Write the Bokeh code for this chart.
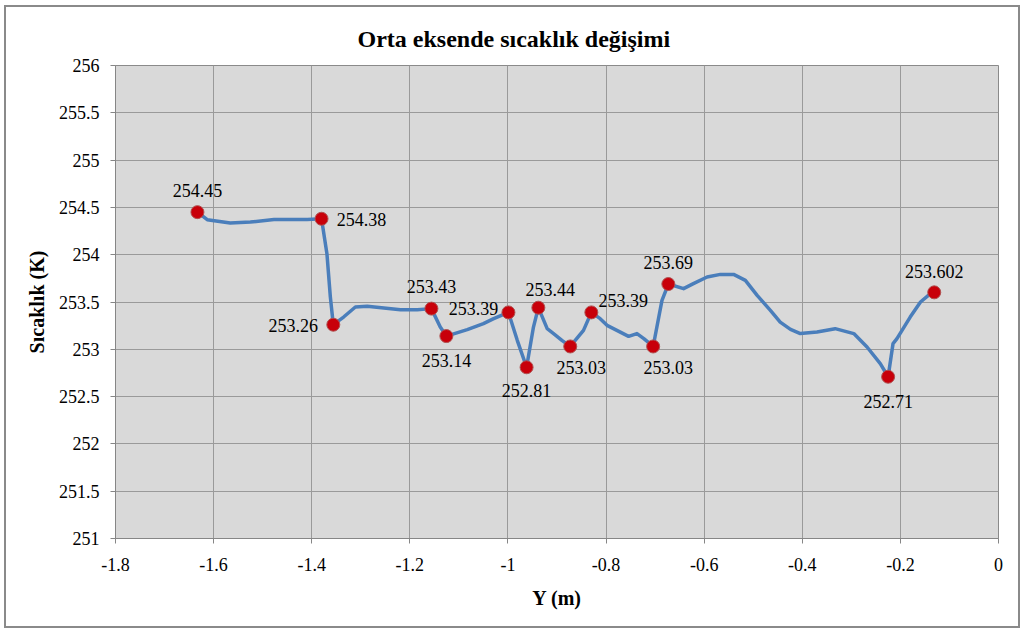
from bokeh.plotting import figure
from bokeh.models import FixedTicker, NumeralTickFormatter, ColumnDataSource, Range1d, Title
from bokeh.core.properties import value
from bokeh.embed import file_html
from bokeh.resources import INLINE

title_text = "Orta eksende sıcaklık değişimi"
x_label = "Y (m)"
y_label = "Sıcaklık (K)"

x_ticks = [-1.8, -1.6, -1.4, -1.2, -1.0, -0.8, -0.6, -0.4, -0.2, 0.0]
y_ticks = [251, 251.5, 252, 252.5, 253, 253.5, 254, 254.5, 255, 255.5, 256]

# curve
line_x = [-1.633, -1.613, -1.566, -1.525, -1.477, -1.409, -1.380, -1.369, -1.362, -1.356,
          -1.335, -1.311, -1.287, -1.253, -1.219, -1.185, -1.156, -1.138, -1.1255, -1.083,
          -1.050, -1.029, -0.999, -0.981, -0.962, -0.948, -0.938, -0.920, -0.907, -0.890,
          -0.873, -0.846, -0.830, -0.812, -0.798, -0.778, -0.754, -0.737, -0.723, -0.704,
          -0.686, -0.673, -0.642, -0.622, -0.594, -0.567, -0.540, -0.516, -0.492, -0.465,
          -0.445, -0.424, -0.404, -0.370, -0.333, -0.295, -0.268, -0.241, -0.225, -0.215,
          -0.207, -0.180, -0.159, -0.143, -0.131]
line_y = [254.45, 254.370, 254.334, 254.345, 254.373, 254.373, 254.38, 254.011, 253.552, 253.26,
          253.341, 253.447, 253.454, 253.436, 253.419, 253.419, 253.43, 253.235, 253.14, 253.208,
          253.271, 253.324, 253.39, 253.095, 252.81, 253.235, 253.44, 253.218, 253.166, 253.095,
          253.03, 253.200, 253.39, 253.324, 253.253, 253.200, 253.137, 253.166, 253.113, 253.03,
          253.517, 253.69, 253.641, 253.694, 253.764, 253.792, 253.792, 253.729, 253.570, 253.412,
          253.288, 253.211, 253.166, 253.183, 253.218, 253.166, 253.024, 252.849, 252.71, 253.060,
          253.113, 253.341, 253.500, 253.570, 253.602]

# labelled points
mark_x = [-1.633, -1.380, -1.356, -1.156, -1.1255, -0.999, -0.962, -0.938, -0.873, -0.830,
          -0.704, -0.673, -0.225, -0.131]
mark_y = [254.45, 254.38, 253.26, 253.43, 253.14, 253.39, 252.81, 253.44, 253.03, 253.39,
          253.03, 253.69, 252.71, 253.602]
mark_text = ["254.45", "254.38", "253.26", "253.43", "253.14", "253.39", "252.81", "253.44",
             "253.03", "253.39", "253.03", "253.69", "252.71", "253.602"]

# label placement (pixels, screen offsets)
label_dx = [0, 40, -40, 0, 0, -35, 0, 12, 11, 32, 15, 0, 0, 0]
label_dy = [-22, 1, 1, -22, 24, -4, 23, -18, 21, -12, 21, -22, 25, -21]

serif = "Liberation Serif"

p = figure(frame_width=883, frame_height=473, output_backend="svg", toolbar_location=None,
           x_range=Range1d(-1.8, 0.0), y_range=Range1d(251, 256),
           min_border_left=109, min_border_right=20, min_border_top=58, min_border_bottom=88)
p.styles = {"border": "2px solid #8a8a8a", "margin": "5px 0px 0px 4px"}
p.background_fill_color = "#d9d9d9"
p.border_fill_color = "white"
p.outline_line_color = "#8a8a8a"
p.outline_line_width = 1

for ax in (p.xaxis[0], p.yaxis[0]):
    ax.axis_line_color = "#868686"
    ax.major_tick_line_color = "#868686"
    ax.major_tick_out = 5
    ax.major_tick_in = 0
    ax.minor_tick_line_color = None
    ax.major_label_text_font = serif
    ax.major_label_text_font_size = "18px"
    ax.major_label_text_color = "black"
    ax.axis_label_text_font = serif
    ax.axis_label_text_font_size = "20px"
    ax.axis_label_text_font_style = "bold"
    ax.axis_label_text_color = "black"
    ax.formatter = NumeralTickFormatter(format="0.[0]")

p.xaxis[0].ticker = FixedTicker(ticks=x_ticks)
p.yaxis[0].ticker = FixedTicker(ticks=y_ticks)
p.xaxis[0].major_label_standoff = 14
p.yaxis[0].major_label_standoff = 11
p.xaxis[0].axis_label = x_label
p.xaxis[0].axis_label_standoff = 13
p.yaxis[0].axis_label = y_label
p.yaxis[0].axis_label_standoff = 8

p.xgrid.ticker = FixedTicker(ticks=x_ticks)
p.ygrid.ticker = FixedTicker(ticks=y_ticks)
for g in (p.xgrid[0], p.ygrid[0]):
    g.grid_line_color = "#9a9a9a"
    g.grid_line_width = 1

p.line(line_x, line_y, line_color="#4a7ebb", line_width=3.5, line_join="round", line_cap="round")

src = ColumnDataSource(dict(x=mark_x, y=mark_y, t=mark_text, dx=label_dx, dy=label_dy))
p.scatter("x", "y", source=src, size=13, fill_color="#c8000a", line_color="#b05050", line_width=1)
p.text("x", "y", text="t", source=src, x_offset="dx", y_offset="dy",
       text_font=value(serif), text_font_size="18px", text_color="black",
       text_align="center", text_baseline="middle")

p.add_layout(Title(text=title_text, align="left", offset=242, text_font=serif,
                   text_font_size="24px", text_font_style="bold", text_color="black",
                   standoff=27), "above")

open("out.html", "w").write(file_html(p, INLINE))
